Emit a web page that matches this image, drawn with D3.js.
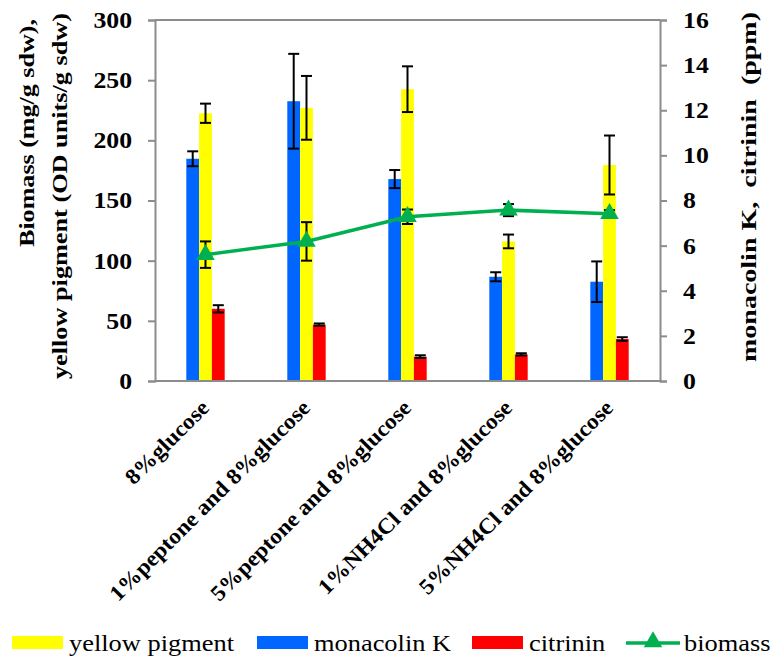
<!DOCTYPE html>
<html>
<head>
<meta charset="utf-8">
<script src="https://cdn.jsdelivr.net/npm/d3@7"></script>
<style>
  body { margin: 0; background: #fff; }
</style>
</head>
<body>
<svg id="chart"></svg>
<script>
const width = 771
const height = 659
const FONT = '"Liberation Serif"'

// data
const categories = ['8%glucose', '1%peptone and 8%glucose', '5%peptone and 8%glucose', '1%NH4Cl and 8%glucose', '5%NH4Cl and 8%glucose']
const monacolinK = [9.85, 12.4, 8.95, 4.62, 4.4]          // ppm, right axis
const monacolinKErr = [0.33, 2.1, 0.4, 0.2, 0.9]
const yellowPigment = [222.5, 227, 242.5, 116, 179.5]     // left axis
const yellowPigmentErr = [8, 26.5, 19, 5.7, 24.5]
const citrinin = [3.2, 2.5, 1.08, 1.18, 1.86]             // ppm, right axis
const citrininErr = [0.16, 0.05, 0.06, 0.05, 0.08]
const biomass = [105, 116, 136.5, 142, 139]               // left axis
const biomassErr = [11, 16, 6, 5, 3]
const leftTicks = [0, 50, 100, 150, 200, 250, 300]
const rightTicks = [0, 2, 4, 6, 8, 10, 12, 14, 16]

const colours = {monacolin: '#0066ff', yellow: '#ffff00', citrinin: '#ff0000', biomass: '#00b050'}

const margin = {left: 155, right: 111, top: 20, bottom: 278}

const svg = d3.select('#chart')
    .attr('width', width)
    .attr('height', height)
    .style('font-family', FONT)

// stretch a text along its own direction (the reference text is a bit wider than the font)
const stretch = (sel, factor) => sel.each(function () {
    const len = this.getComputedTextLength()
    d3.select(this)
        .attr('textLength', len * factor)
        .attr('lengthAdjust', 'spacingAndGlyphs')
})
const fitTo = (sel, len) => sel
    .attr('textLength', len)
    .attr('lengthAdjust', 'spacingAndGlyphs')

// scales
const xScale = d3.scaleBand()
    .domain(categories)
    .range([margin.left, width - margin.right])
    .paddingInner(0.62)
    .paddingOuter(0.31)
const innerScale = d3.scaleBand()
    .domain(['monacolin', 'yellow', 'citrinin'])
    .range([0, xScale.bandwidth()])
const yLeft = d3.scaleLinear()
    .domain([0, 300])
    .range([height - margin.bottom, margin.top])
const yRight = d3.scaleLinear()
    .domain([0, 16])
    .range([height - margin.bottom, margin.top])

const x0 = margin.left
const x1 = width - margin.right
const yTop = margin.top
const yBottom = height - margin.bottom

// plot border (top line)
svg.append('line')
    .attr('x1', x0).attr('x2', x1)
    .attr('y1', yTop).attr('y2', yTop)
    .style('stroke', '#8c8c8c')
    .style('stroke-width', 2)

// bars
const series = [
    {key: 'monacolin', values: monacolinK, errs: monacolinKErr, scale: yRight},
    {key: 'yellow', values: yellowPigment, errs: yellowPigmentErr, scale: yLeft},
    {key: 'citrinin', values: citrinin, errs: citrininErr, scale: yRight}
]

series.forEach(s => {
    const g = svg.append('g')
    g.selectAll('rect')
        .data(categories)
        .enter()
        .append('rect')
            .attr('x', (d) => xScale(d) + innerScale(s.key))
            .attr('width', innerScale.bandwidth())
            .attr('y', (d, i) => s.scale(s.values[i]))
            .attr('height', (d, i) => yBottom - s.scale(s.values[i]))
            .style('fill', colours[s.key])
})

// error bars
const drawErr = (cx, yHi, yLo) => {
    const g = svg.append('g').style('stroke', '#000').style('stroke-width', 2)
    g.append('line').attr('x1', cx).attr('x2', cx).attr('y1', yHi).attr('y2', yLo)
    g.append('line').attr('x1', cx - 5.5).attr('x2', cx + 5.5).attr('y1', yHi).attr('y2', yHi)
    g.append('line').attr('x1', cx - 5.5).attr('x2', cx + 5.5).attr('y1', yLo).attr('y2', yLo)
}

series.forEach(s => {
    categories.forEach((c, i) => {
        const cx = xScale(c) + innerScale(s.key) + innerScale.bandwidth() / 2
        drawErr(cx, s.scale(s.values[i] + s.errs[i]), s.scale(s.values[i] - s.errs[i]))
    })
})

// biomass line
const centre = (c) => xScale(c) + xScale.bandwidth() / 2
categories.forEach((c, i) => {
    drawErr(centre(c), yLeft(biomass[i] + biomassErr[i]), yLeft(biomass[i] - biomassErr[i]))
})

const line = d3.line()
    .x((d, i) => centre(categories[i]))
    .y((d) => yLeft(d))
svg.append('path')
    .datum(biomass)
    .attr('d', line)
    .style('fill', 'none')
    .style('stroke', colours.biomass)
    .style('stroke-width', 3.5)

svg.selectAll('.marker')
    .data(biomass)
    .enter()
    .append('path')
        .attr('class', 'marker')
        .attr('d', d3.symbol(d3.symbolTriangle, 150))
        .attr('transform', (d, i) => `translate(${centre(categories[i])}, ${yLeft(d)})`)
        .style('fill', colours.biomass)

// axes
const leftAxis = d3.axisLeft(yLeft)
    .tickValues(leftTicks)
    .tickSize(7)
    .tickPadding(16)
const rightAxis = d3.axisRight(yRight)
    .tickValues(rightTicks)
    .tickSize(7)
    .tickPadding(16)

const styleAxis = (g) => {
    g.attr('font-family', null).attr('font-size', null)
    g.select('.domain').style('stroke', '#8c8c8c').style('stroke-width', 2)
    g.selectAll('.tick line').style('stroke', '#8c8c8c').style('stroke-width', 2)
    g.selectAll('.tick text')
        .style('font-family', FONT)
        .style('font-size', '23px')
        .style('font-weight', 'bold')
        .style('fill', '#000')
        .call(stretch, 1.12)
}

svg.append('g')
    .attr('transform', `translate(${x0}, 0)`)
    .call(leftAxis)
    .call(styleAxis)
svg.append('g')
    .attr('transform', `translate(${x1}, 0)`)
    .call(rightAxis)
    .call(styleAxis)

// bottom axis line
svg.append('line')
    .attr('x1', x0).attr('x2', x1)
    .attr('y1', yBottom).attr('y2', yBottom)
    .style('stroke', '#8c8c8c')
    .style('stroke-width', 2)

// category labels, rotated
svg.selectAll('.cat')
    .data(categories)
    .enter()
    .append('text')
        .attr('class', 'cat')
        .attr('text-anchor', 'end')
        .attr('transform', (d) => `translate(${centre(d) + 5}, ${yBottom + 28}) rotate(-45)`)
        .style('font-family', FONT)
        .style('font-size', '22px')
        .style('font-weight', 'bold')
        .text((d) => d)
        .call(stretch, 1.07)

// axis titles
const title = (text, x, y, len) => svg.append('text')
    .attr('text-anchor', 'middle')
    .attr('transform', `translate(${x}, ${y}) rotate(-90)`)
    .style('font-family', FONT)
    .style('font-size', '22px')
    .style('font-weight', 'bold')
    .style('white-space', 'pre')
    .text(text)
    .call(fitTo, len)

title('Biomass (mg/g sdw),', 34, 133, 228)
title('yellow pigment (OD units/g sdw)', 67, 196, 366)
title('monacolin K,  citrinin  (ppm)', 756, 187, 350)

// legend
const legendY = 651
const legendItems = [
    {label: 'yellow pigment', colour: colours.yellow, x: 12, type: 'rect'},
    {label: 'monacolin K', colour: colours.monacolin, x: 257, type: 'rect'},
    {label: 'citrinin', colour: colours.citrinin, x: 472, type: 'rect'},
    {label: 'biomass', colour: colours.biomass, x: 626, type: 'line'}
]
legendItems.forEach(item => {
    const g = svg.append('g').attr('transform', `translate(${item.x}, 0)`)
    if (item.type === 'rect') {
        g.append('rect')
            .attr('x', 0).attr('y', legendY - 15)
            .attr('width', 51).attr('height', 13)
            .style('fill', item.colour)
    } else {
        g.append('line')
            .attr('x1', 0).attr('x2', 54)
            .attr('y1', legendY - 8).attr('y2', legendY - 8)
            .style('stroke', item.colour)
            .style('stroke-width', 3.5)
        g.append('path')
            .attr('d', d3.symbol(d3.symbolTriangle, 150))
            .attr('transform', `translate(27, ${legendY - 9})`)
            .style('fill', item.colour)
    }
    g.append('text')
        .attr('x', item.type === 'rect' ? 57 : 58)
        .attr('y', legendY)
        .style('font-family', FONT)
        .style('font-size', '24px')
        .text(item.label)
        .call(stretch, 1.1)
})
</script>
</body>
</html>
